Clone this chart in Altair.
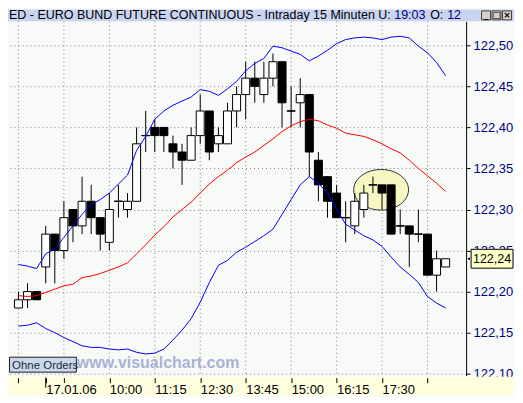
import math
import altair as alt
import pandas as pd

# ---------------- data ----------------
bars = list(range(1, 49))
opens = [122.18, 122.19, 122.20, 122.23, 122.27, 122.25, 122.30, 122.28, 122.31, 122.29,
         122.26, 122.31, 122.30, 122.31, 122.39, 122.40, 122.40, 122.38, 122.37, 122.36,
         122.39, 122.42, 122.38, 122.38, 122.42, 122.44, 122.46, 122.44, 122.46, 122.48,
         122.42, 122.43, 122.44, 122.36, 122.34, 122.32, 122.29, 122.28, 122.30, 122.33,
         122.33, 122.33, 122.28, 122.28, 122.27, 122.27, 122.22, 122.23]
highs = [122.20, 122.21, 122.20, 122.28, 122.27, 122.31, 122.30, 122.34, 122.33, 122.29,
         122.32, 122.33, 122.32, 122.40, 122.42, 122.41, 122.40, 122.39, 122.38, 122.40,
         122.44, 122.42, 122.40, 122.43, 122.45, 122.48, 122.48, 122.48, 122.49, 122.48,
         122.45, 122.46, 122.44, 122.37, 122.34, 122.33, 122.31, 122.32, 122.33, 122.34,
         122.33, 122.33, 122.30, 122.28, 122.30, 122.27, 122.25, 122.24]
lows = [122.18, 122.18, 122.19, 122.21, 122.21, 122.24, 122.26, 122.27, 122.27, 122.25,
        122.25, 122.29, 122.29, 122.31, 122.37, 122.37, 122.37, 122.35, 122.33, 122.36,
        122.38, 122.36, 122.37, 122.38, 122.40, 122.41, 122.43, 122.43, 122.45, 122.40,
        122.40, 122.40, 122.34, 122.31, 122.29, 122.29, 122.26, 122.27, 122.29, 122.32,
        122.30, 122.27, 122.27, 122.23, 122.26, 122.22, 122.20, 122.23]
closes = [122.19, 122.20, 122.19, 122.27, 122.25, 122.29, 122.28, 122.31, 122.29, 122.27,
          122.30, 122.31, 122.31, 122.38, 122.39, 122.39, 122.39, 122.37, 122.36, 122.39,
          122.42, 122.37, 122.39, 122.42, 122.44, 122.46, 122.45, 122.46, 122.48, 122.43,
          122.42, 122.44, 122.37, 122.33, 122.31, 122.29, 122.29, 122.31, 122.32, 122.33,
          122.32, 122.27, 122.28, 122.27, 122.27, 122.22, 122.24, 122.24]

upper = [122.233, 122.231, 122.228, 122.246, 122.252, 122.266, 122.280, 122.294, 122.306, 122.312,
         122.320, 122.331, 122.342, 122.372, 122.389, 122.410, 122.420, 122.427, 122.432, 122.437,
         122.446, 122.444, 122.439, 122.447, 122.456, 122.469, 122.478, 122.484, 122.499, 122.497,
         122.493, 122.489, 122.481, 122.487, 122.494, 122.502, 122.507, 122.509, 122.510, 122.509,
         122.507, 122.510, 122.511, 122.509, 122.499, 122.491, 122.479, 122.463]
middle = [122.195, 122.194, 122.195, 122.199, 122.203, 122.207, 122.209, 122.217, 122.219, 122.222,
          122.226, 122.230, 122.235, 122.246, 122.257, 122.269, 122.279, 122.291, 122.300, 122.309,
          122.320, 122.331, 122.340, 122.348, 122.357, 122.364, 122.370, 122.378, 122.386, 122.395,
          122.402, 122.407, 122.410, 122.408, 122.403, 122.399, 122.393, 122.391, 122.389, 122.385,
          122.380, 122.374, 122.369, 122.360, 122.350, 122.341, 122.332, 122.322]
lower = [122.158, 122.159, 122.162, 122.155, 122.150, 122.144, 122.139, 122.134, 122.132, 122.132,
         122.130, 122.129, 122.130, 122.126, 122.124, 122.125, 122.130, 122.141, 122.153, 122.167,
         122.187, 122.211, 122.232, 122.238, 122.248, 122.254, 122.261, 122.268, 122.276, 122.294,
         122.312, 122.330, 122.340, 122.332, 122.320, 122.300, 122.282, 122.275, 122.268, 122.263,
         122.255, 122.242, 122.230, 122.221, 122.211, 122.194, 122.186, 122.180]

time_tick_bars = [4, 11, 16, 21, 26, 31, 36, 41]
time_tick_labels = ["17.01.06", "10:00", "11:15", "12:30", "13:45", "15:00", "16:15", "17:30"]
grid_bars = [1, 6, 11, 16, 21, 26, 31, 36, 41, 46]
price_ticks = [122.10, 122.15, 122.20, 122.25, 122.30, 122.35, 122.40, 122.45, 122.50]
last_price = 122.24
last_price_label = "122,24"
ellipse_bar = 40.9
ellipse_price = 122.324

title_main = "ED - EURO BUND FUTURE CONTINUOUS - Intraday 15 Minuten U:"
title_time = "19:03"
title_o = "O:"
title_o_val = "12"
badge_text = "Ohne Orders"
watermark = "www.visualchart.com"
buttons = ["_", "□", "×"]

# ---------------- styles ----------------
FONT = "Liberation Sans"
BG = "#f8faf8"
GRID = "#808080"
TITLE_BG = "#c8d4f0"
STRIP_BG = "#ffffe0"
NAVY = "#000080"

W, H = 459, 355          # plot area; whole chart stays inside 507 x 387
FULL_W = 507
xs = alt.Scale(domain=[0.4, 49.7], nice=False, zero=False)
ys = alt.Scale(domain=[122.09757, 122.52918], nice=False, zero=False)

df = pd.DataFrame(dict(bar=bars, open=opens, high=highs, low=lows, close=closes))
df["body"] = ["white" if c >= o else "black" for o, c in zip(opens, closes)]
bands = pd.DataFrame(dict(bar=bars, upper=upper, middle=middle, lower=lower))
one = pd.DataFrame({"k": [0]})

x_ticks = sorted(set(grid_bars + time_tick_bars[:1]))
label_expr = " : ".join(
    f"datum.value == {b} ? '{t}'" for b, t in zip(time_tick_bars, time_tick_labels)
) + " : ''"

xaxis = alt.Axis(values=x_ticks, labelExpr=label_expr, grid=False, domain=False,
                 tickSize=5, tickColor="black", offset=2, labelAlign="left",
                 labelPadding=1, labelFont=FONT, labelFontSize=13, labelColor="black",
                 labelOverlap=False, labelFlush=False, title=None, zindex=1)
yaxis = alt.Axis(orient="right", values=price_ticks,
                 labelExpr="replace(format(datum.value, '.2f'), '.', ',')",
                 grid=True, gridDash=[1, 3], gridColor=GRID, domain=True, domainColor="black",
                 tickSize=4, tickColor="black", labelPadding=3, labelFont=FONT,
                 labelFontSize=13, labelColor=NAVY, labelOverlap=False, labelFlush=False,
                 title=None, zindex=0)


def X():
    return alt.X("bar:Q", scale=xs, axis=xaxis)


def Y(field):
    return alt.Y(field, scale=ys, axis=yaxis)


def YD(v):
    return alt.YDatum(v, type="quantitative", scale=ys, axis=yaxis)


vgrid = alt.Chart(pd.DataFrame({"bar": grid_bars})).mark_rule(
    color=GRID, strokeDash=[1, 3], strokeWidth=1
).encode(x=X())

# ellipse shape
pts = []
for i in range(48):
    t = 2 * math.pi * i / 48
    pts.append(f"{math.cos(t):.4f},{0.74 * math.sin(t):.4f}")
ell_path = "M " + " L ".join(pts) + " Z"
ellipse = alt.Chart(one).mark_point(
    shape=ell_path, size=3025, filled=True, fill="#f7f7c4", stroke="#303030",
    strokeWidth=1, opacity=1, fillOpacity=1, strokeOpacity=1
).encode(
    x=alt.XDatum(ellipse_bar, type="quantitative", scale=xs, axis=xaxis),
    y=YD(ellipse_price),
)

wicks = alt.Chart(df).mark_rule(color="black", strokeWidth=1).encode(
    x=X(), y=Y("low:Q"), y2="high:Q"
)
bodies = alt.Chart(df).mark_bar(size=8, stroke="black", strokeWidth=1).encode(
    x=X(), y=Y("open:Q"), y2="close:Q",
    fill=alt.Fill("body:N", scale=None),
)
doji = alt.Chart(df).transform_filter("datum.open == datum.close").mark_tick(
    orient="horizontal", size=9, thickness=1, color="black"
).encode(x=X(), y=Y("open:Q"))

mid_line = alt.Chart(bands).mark_line(color="#ff0000", strokeWidth=1).encode(
    x=X(), y=Y("middle:Q")
)
up_line = alt.Chart(bands).mark_line(color="#0000ff", strokeWidth=1).encode(
    x=X(), y=Y("upper:Q")
)
lo_line = alt.Chart(bands).mark_line(color="#0000ff", strokeWidth=1).encode(
    x=X(), y=Y("lower:Q")
)

# bottom yellow strip and day separator tick
strip = alt.Chart(one).mark_rect(fill=STRIP_BG, strokeWidth=0).encode(
    x=alt.value(0), x2=alt.value(FULL_W), y=alt.value(H + 1), y2=alt.value(H + 20)
)
day_tick = alt.Chart(pd.DataFrame({"bar": time_tick_bars[:1]})).mark_rule(
    color="black", strokeWidth=1
).encode(x=X(), y=alt.value(H + 2), y2=alt.value(H + 12))

# title bar
title_bar = alt.Chart(one).mark_rect(fill=TITLE_BG, strokeWidth=0).encode(
    x=alt.value(0), x2=alt.value(FULL_W), y=alt.value(-12), y2=alt.value(0)
)


def ttext(txt, x, color, size=12.5, font=FONT, weight="normal"):
    return alt.Chart(one).mark_text(
        text=txt, align="left", baseline="alphabetic", font=font, fontSize=size,
        color=color, fontWeight=weight
    ).encode(x=alt.value(x), y=alt.value(-2.5))


t1 = ttext(title_main, 1, "black")
t2 = ttext(title_time, 387, NAVY)
t3 = ttext(title_o, 423, "black")
t4 = ttext(title_o_val, 440, NAVY)

btn_layers = []
for i, g in enumerate(buttons):
    x0 = 474.5 + 10.5 * i
    btn_layers.append(alt.Chart(one).mark_rect(fill="#d4d0c8", stroke="#404040", strokeWidth=1).encode(
        x=alt.value(x0), x2=alt.value(x0 + 9), y=alt.value(-10.5), y2=alt.value(-1.5)))
    btn_layers.append(alt.Chart(one).mark_text(
        text=g, font="DejaVu Sans", fontSize=9, fontWeight="bold", color="black", baseline="middle"
    ).encode(x=alt.value(x0 + 4.5), y=alt.value(-6)))

# last price box
box_path = "M -1,-0.45 L 1,-0.45 L 1,0.45 L -1,0.45 Z"
price_box = alt.Chart(one).mark_point(
    shape=box_path, size=1764, filled=True, fill="#ffffc8", stroke="black",
    strokeWidth=1, opacity=1, fillOpacity=1, strokeOpacity=1
).encode(x=alt.value(485), y=YD(last_price))
price_txt = alt.Chart(one).mark_text(
    text=last_price_label, font=FONT, fontSize=12.5, color="black", baseline="middle"
).encode(x=alt.value(485), y=YD(last_price))
price_arrow = alt.Chart(one).mark_point(
    shape="triangle-left", size=10, filled=True, color="black", opacity=1
).encode(x=alt.value(461.5), y=YD(last_price))

# "Ohne Orders" badge and watermark
badge = alt.Chart(one).mark_rect(fill="#cad8ea", stroke="#202020", strokeWidth=1).encode(
    x=alt.value(1.5), x2=alt.value(68.5), y=alt.value(336.5), y2=alt.value(351.5)
)
badge_t = alt.Chart(one).mark_text(
    text=badge_text, align="left", baseline="alphabetic", font=FONT, fontSize=11.5,
    color="#1a2a40"
).encode(x=alt.value(4), y=alt.value(348))
wm = alt.Chart(one).mark_text(
    text=watermark, align="left", baseline="alphabetic", font=FONT, fontSize=16,
    fontWeight="bold", color="#aab2d6"
).encode(x=alt.value(69), y=alt.value(347))

chart = alt.layer(
    vgrid, ellipse, wicks, bodies, doji, mid_line, up_line, lo_line,
    strip, day_tick, title_bar, t1, t2, t3, t4, *btn_layers,
    price_box, price_txt, price_arrow, badge, badge_t, wm
).properties(width=W, height=H, padding=0).configure(background=BG).configure_view(
    fill=BG, stroke=None
)

chart.save("out.html", embed_options={"renderer": "svg", "actions": False})
